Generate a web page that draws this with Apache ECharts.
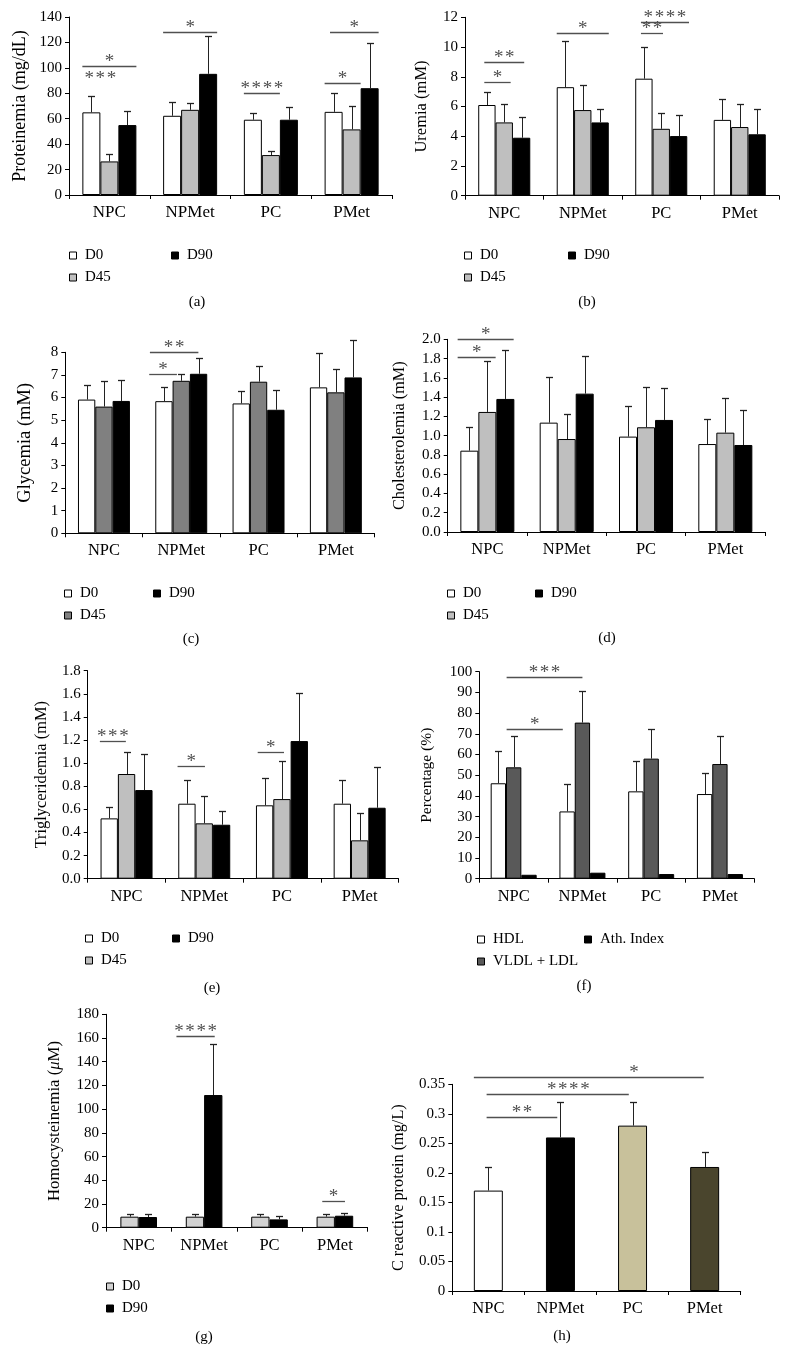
<!DOCTYPE html>
<html><head><meta charset="utf-8">
<script src="https://cdn.jsdelivr.net/npm/echarts@6/dist/echarts.min.js"></script>
<style>html,body{margin:0;padding:0;background:#fff}#c{width:785px;height:1370px}</style>
</head><body><div id="c"></div><script>
const FONT = "'Liberation Serif', 'DejaVu Serif', serif";
const categories = ['NPC', 'NPMet', 'PC', 'PMet'];

// (a) Proteinemia (mg/dL)
const protD0 = [65.0, 62.3, 59.2, 65.4];
const protD0Sd = [12.5, 11.0, 5.2, 14.7];
const protD45 = [26.4, 67.0, 31.4, 51.6];
const protD45Sd = [5.6, 5.0, 3.6, 18.6];
const protD90 = [55.0, 95.3, 59.2, 84.0];
const protD90Sd = [11.0, 29.6, 10.4, 35.4];
const protSig = [
  { from: [0, 0], to: [0, 3], y: 101.5, text: '*' },
  { from: [0, 0], to: [0, 2], y: 88, text: '***', noLine: true },
  { from: [1, 0], to: [1, 3], y: 128, text: '*' },
  { from: [2, 0], to: [2, 2], y: 80.4, text: '****' },
  { from: [3, 0], to: [3, 2], y: 88.2, text: '*' },
  { from: [3, 0.3], to: [3, 3], y: 128, text: '*' }
];

// (b) Uremia (mM)
const urD0 = [6.1, 7.3, 7.87, 5.1];
const urD0Sd = [0.9, 3.13, 2.15, 1.4];
const urD45 = [4.93, 5.76, 4.5, 4.62];
const urD45Sd = [1.24, 1.68, 1.06, 1.55];
const urD90 = [3.9, 4.93, 4.01, 4.13];
const urD90Sd = [1.37, 0.87, 1.44, 1.67];
const urSig = [
  { from: [0, 0.35], to: [0, 2.65], y: 9.0, text: '**' },
  { from: [0, 0.35], to: [0, 1.87], y: 7.65, text: '*' },
  { from: [1, 0], to: [1, 3], y: 10.92, text: '*' },
  { from: [2, 0.33], to: [2, 3.1], y: 11.66, text: '****' },
  { from: [2, 0.33], to: [2, 1.6], y: 10.92, text: '**' }
];

// (c) Glycemia (mM)
const glyD0 = [5.91, 5.84, 5.74, 6.45];
const glyD0Sd = [0.64, 0.62, 0.55, 1.5];
const glyD45 = [5.6, 6.74, 6.7, 6.23];
const glyD45Sd = [1.14, 0.28, 0.68, 1.03];
const glyD90 = [5.85, 7.05, 5.46, 6.89];
const glyD90Sd = [0.92, 0.71, 0.87, 1.65];
const glySig = [
  { from: [1, -0.31], to: [1, 2.49], y: 8.0, text: '**' },
  { from: [1, -0.35], to: [1, 1.25], y: 7.04, text: '*' }
];

// (d) Cholesterolemia (mM)
const cholD0 = [0.844, 1.135, 0.99, 0.913];
const cholD0Sd = [0.25, 0.477, 0.32, 0.257];
const cholD45 = [1.246, 0.965, 1.087, 1.031];
const cholD45Sd = [0.526, 0.256, 0.415, 0.357];
const cholD90 = [1.381, 1.436, 1.163, 0.903];
const cholD90Sd = [0.512, 0.391, 0.332, 0.367];
const cholSig = [
  { from: [0, -0.15], to: [0, 2.96], y: 2.0, text: '*' },
  { from: [0, -0.15], to: [0, 1.96], y: 1.82, text: '*' }
];

// (e) Triglyceridemia (mM)
const trigD0 = [0.522, 0.649, 0.635, 0.649];
const trigD0Sd = [0.101, 0.205, 0.236, 0.202];
const trigD45 = [0.906, 0.479, 0.689, 0.332];
const trigD45Sd = [0.193, 0.239, 0.329, 0.236];
const trigD90 = [0.767, 0.467, 1.191, 0.614];
const trigD90Sd = [0.312, 0.116, 0.416, 0.352];
const trigSig = [
  { from: [0, -0.04], to: [0, 1.46], y: 1.194, text: '***' },
  { from: [1, -0.04], to: [1, 1.54], y: 0.972, text: '*' },
  { from: [2, 0.1], to: [2, 1.62], y: 1.093, text: '*' }
];

// (f) Percentage (%)
const hdl = [46.1, 32.5, 42.2, 40.9];
const hdlSd = [15.4, 13.4, 14.8, 10.3];
const vldl = [53.8, 75.4, 58.0, 55.4];
const vldlSd = [15.3, 15.1, 14.5, 13.4];
const athIndex = [1.9, 2.9, 2.25, 2.25];
const pctSig = [
  { from: [0, 1.04], to: [1, 1.5], y: 97.3, text: '***' },
  { from: [0, 1.04], to: [1, 0.22], y: 72.5, text: '*' }
];

// (g) Homocysteinemia (µM)
const hcyD0 = [9.3, 9.3, 9.3, 9.3];
const hcyD0Sd = [2.5, 2.5, 2.5, 2.5];
const hcyD90 = [9.0, 111.9, 7.0, 10.1];
const hcyD90Sd = [2.8, 43.3, 3.1, 2.3];
const hcySig = [
  { from: [1, -0.51], to: [1, 1.58], y: 162, text: '****' },
  { from: [3, 0.31], to: [3, 1.55], y: 22.5, text: '*' }
];

// (h) C reactive protein (mg/L)
const crp = [0.17, 0.26, 0.28, 0.21];
const crpSd = [0.04, 0.06, 0.04, 0.025];
const crpColors = ['#ffffff', '#000000', '#c8c19b', '#4a452d'];
const crpSig = [
  { from: [0, 0], to: [3, 0.47], y: 0.3625, text: '*', at: [2, 0.55] },
  { from: [0, 0.44], to: [2, 0.37], y: 0.334, text: '****', at: [1, 0.77] },
  { from: [0, 0.44], to: [1, 0.39], y: 0.295, text: '**' }
];

const WHITE = '#ffffff', LGREY = '#bfbfbf', MGREY = '#808080', DGREY = '#595959', BLACK = '#000000', PGREY = '#d2d2d2';

const panels = [
  { grid: { left: 69, top: 17, width: 323, height: 178 }, y: [0, 140, 20, 0], name: 'Proteinemia (mg/dL)', nameSize: 18, nameGap: 40, tick: 15, cat: 17, frac: 0.223,
    series: [['D0', protD0, protD0Sd, WHITE], ['D45', protD45, protD45Sd, LGREY], ['D90', protD90, protD90Sd, BLACK]], sig: protSig,
    legends: [[69, 248, [0, 1]], [171, 248, [2]]], label: ['(a)', 197, 302] },
  { grid: { left: 465, top: 17.3, width: 314, height: 178.4 }, y: [0, 12, 2, 0], name: 'Uremia (mM)', nameSize: 16.5, nameGap: 35, tick: 15, cat: 16.5, frac: 0.221,
    series: [['D0', urD0, urD0Sd, WHITE], ['D45', urD45, urD45Sd, LGREY], ['D90', urD90, urD90Sd, BLACK]], sig: urSig,
    legends: [[464, 248, [0, 1]], [568, 248, [2]]], label: ['(b)', 587, 302] },
  { grid: { left: 65.3, top: 352.3, width: 309.2, height: 181 }, y: [0, 8, 1, 0], name: 'Glycemia (mM)', nameSize: 18.5, nameGap: 31, tick: 15, cat: 16.5, frac: 0.224,
    series: [['D0', glyD0, glyD0Sd, WHITE], ['D45', glyD45, glyD45Sd, MGREY], ['D90', glyD90, glyD90Sd, BLACK]], sig: glySig,
    legends: [[64, 586, [0, 1]], [153, 586, [2]]], label: ['(c)', 191, 639] },
  { grid: { left: 447.7, top: 339.3, width: 317.3, height: 192.7 }, y: [0, 2, 0.2, 1], name: 'Cholesterolemia (mM)', nameSize: 16.3, nameGap: 40, tick: 15, cat: 16.5, frac: 0.227,
    series: [['D0', cholD0, cholD0Sd, WHITE], ['D45', cholD45, cholD45Sd, LGREY], ['D90', cholD90, cholD90Sd, BLACK]], sig: cholSig,
    legends: [[447, 586, [0, 1]], [535, 586, [2]]], label: ['(d)', 607, 638] },
  { grid: { left: 87.7, top: 670.7, width: 310.8, height: 208 }, y: [0, 1.8, 0.2, 1], name: 'Triglyceridemia (mM)', nameSize: 16.4, nameGap: 38, tick: 15, cat: 16.5, frac: 0.223,
    series: [['D0', trigD0, trigD0Sd, WHITE], ['D45', trigD45, trigD45Sd, LGREY], ['D90', trigD90, trigD90Sd, BLACK]], sig: trigSig,
    legends: [[85, 931, [0, 1]], [172, 931, [2]]], label: ['(e)', 212, 988] },
  { grid: { left: 479.3, top: 671.7, width: 275, height: 207 }, y: [0, 100, 10, 0], name: 'Percentage (%)', nameSize: 15.5, nameGap: 44, tick: 15, cat: 16.5, frac: 0.223,
    series: [['HDL', hdl, hdlSd, WHITE], ['VLDL + LDL', vldl, vldlSd, DGREY], ['Ath. Index', athIndex, null, BLACK]], sig: pctSig,
    legends: [[477, 932, [0, 1]], [584, 932, [2]]], label: ['(f)', 584, 986] },
  { grid: { left: 106, top: 1014.3, width: 261.6, height: 213.4 }, y: [0, 180, 20, 0], name: 'Homocysteinemia ({it|\u03bc}M)', nameSize: 16.7, nameGap: 43, tick: 15, cat: 16.5, frac: 0.28,
    series: [['D0', hcyD0, hcyD0Sd, PGREY], ['D90', hcyD90, hcyD90Sd, BLACK]], sig: hcySig,
    legends: [[106, 1279, [0, 1]]], label: ['(g)', 204, 1337] },
  { grid: { left: 452.3, top: 1084.3, width: 288.4, height: 206.7 }, y: [0, 0.35, 0.05, -1], name: 'C reactive protein (mg/L)', nameSize: 16.3, nameGap: 46, tick: 15, cat: 16.5, frac: 0.402,
    series: [['CRP', crp, crpSd, crpColors]], sig: crpSig, legends: [], label: ['(h)', 562, 1336] }
];

function errorRender(frac, n) {
  return function (params, api) {
    const cat = api.value(0), k = api.value(1), mean = api.value(2), top = api.value(3);
    const bw = api.size([1, 0])[0] * frac;
    const cx = Math.round(api.coord([cat, 0])[0] + (k - (n - 1) / 2) * bw) + 0.5;
    const y0 = api.coord([cat, mean])[1];
    const y1 = Math.round(api.coord([cat, top])[1]) + 0.5;
    return { type: 'group', children: [
      { type: 'line', shape: { x1: cx, y1: y0, x2: cx, y2: y1 }, style: { stroke: '#222', lineWidth: 1 } },
      { type: 'line', shape: { x1: cx - 3.5, y1: y1, x2: cx + 3.5, y2: y1 }, style: { stroke: '#222', lineWidth: 1.3 } }
    ] };
  };
}

function sigRender(frac, n, list) {
  return function (params, api) {
    const b = list[params.dataIndex];
    const bw = api.size([1, 0])[0] * frac;
    const px = (c, s) => api.coord([c, 0])[0] - n * bw / 2 + s * bw;
    const x1 = px(b.from[0], b.from[1]), x2 = px(b.to[0], b.to[1]);
    const y = Math.round(api.coord([0, b.y])[1]) + 0.5;
    const lx = b.at ? px(b.at[0], b.at[1]) : (x1 + x2) / 2;
    const children = [];
    if (!b.noLine) children.push({ type: 'line', shape: { x1: x1, y1: y, x2: x2, y2: y }, style: { stroke: '#505050', lineWidth: 1.3 } });
    children.push({ type: 'text', x: lx, y: y + 5, style: { text: b.text.split('').join('\u200a'), fill: '#505050', font: '19px ' + FONT, align: 'center', verticalAlign: 'bottom' } });
    return { type: 'group', children: children };
  };
}

const option = { animation: false, backgroundColor: '#fff', grid: [], xAxis: [], yAxis: [], series: [], legend: [], graphic: [] };

panels.forEach(function (p, gi) {
  option.grid.push(Object.assign({ outerBoundsMode: 'none', containLabel: false }, p.grid));
  option.xAxis.push({
    type: 'category', gridIndex: gi, data: categories,
    axisLine: { show: true, lineStyle: { color: '#000', width: 1 } },
    axisTick: { show: true, length: 4, interval: 0, lineStyle: { color: '#000' } },
    axisLabel: { show: true, interval: 0, margin: 9, fontFamily: FONT, fontSize: p.cat, color: '#000' },
    splitLine: { show: false }
  });
  const dec = p.y[3];
  option.yAxis.push({
    type: 'value', gridIndex: gi, min: p.y[0], max: p.y[1], interval: p.y[2],
    name: p.name, nameLocation: 'middle', nameGap: p.nameGap,
    nameTextStyle: { fontFamily: FONT, fontSize: p.nameSize, color: '#000',
      rich: { it: { fontFamily: FONT, fontSize: p.nameSize, fontStyle: 'italic', color: '#000' } } },
    axisLine: { show: true, lineStyle: { color: '#000', width: 1 } },
    axisTick: { show: true, length: 4, lineStyle: { color: '#000' } },
    axisLabel: { show: true, margin: 7, fontFamily: FONT, fontSize: p.tick, color: '#000',
      formatter: dec >= 0 ? function (v) { return v.toFixed(dec); } : function (v) { return String(+v.toFixed(3)); } },
    splitLine: { show: false }
  });
  const n = p.series.length;
  const errData = [];
  p.series.forEach(function (s, k) {
    const colors = s[3];
    option.series.push({
      type: 'bar', name: s[0], xAxisIndex: gi, yAxisIndex: gi,
      barWidth: (p.frac * 100) + '%', barGap: '0%',
      data: s[1].map(function (v, i) {
        return { value: v, itemStyle: { color: Array.isArray(colors) ? colors[i] : colors } };
      }),
      itemStyle: { borderColor: '#000', borderWidth: 1 },
      emphasis: { disabled: true }
    });
    if (s[2]) s[1].forEach(function (v, i) { errData.push([i, k, v, v + s[2][i]]); });
  });
  option.series.push({
    type: 'custom', xAxisIndex: gi, yAxisIndex: gi, clip: false, z: 5,
    renderItem: errorRender(p.frac, n), data: errData, encode: { x: 0, y: 3 }, silent: true
  });
  option.series.push({
    type: 'custom', xAxisIndex: gi, yAxisIndex: gi, clip: false, z: 5,
    renderItem: sigRender(p.frac, n, p.sig), data: p.sig.map(function (b) { return [b.from[0], b.y]; }),
    encode: { x: 0, y: 1 }, silent: true
  });
  p.legends.forEach(function (lg) {
    option.legend.push({
      orient: 'vertical', left: lg[0], top: lg[1], padding: 0, itemGap: 7,
      itemWidth: 14, itemHeight: 7, symbolKeepAspect: true, selectedMode: false,
      icon: 'path://M0,0L10,0L10,10L0,10Z',
      textStyle: { fontFamily: FONT, fontSize: 15, color: '#000' },
      data: lg[2].map(function (k) {
        return { name: p.series[k][0], itemStyle: { color: p.series[k][3], borderColor: '#000', borderWidth: 1 } };
      })
    });
  });
  option.graphic.push({ type: 'text', x: p.label[1], y: p.label[2], style: { text: p.label[0], font: '15px ' + FONT, fill: '#000', align: 'center', verticalAlign: 'middle' } });
});

const chart = echarts.init(document.getElementById('c'), null, { renderer: 'canvas' });
chart.setOption(option);
</script></body></html>
